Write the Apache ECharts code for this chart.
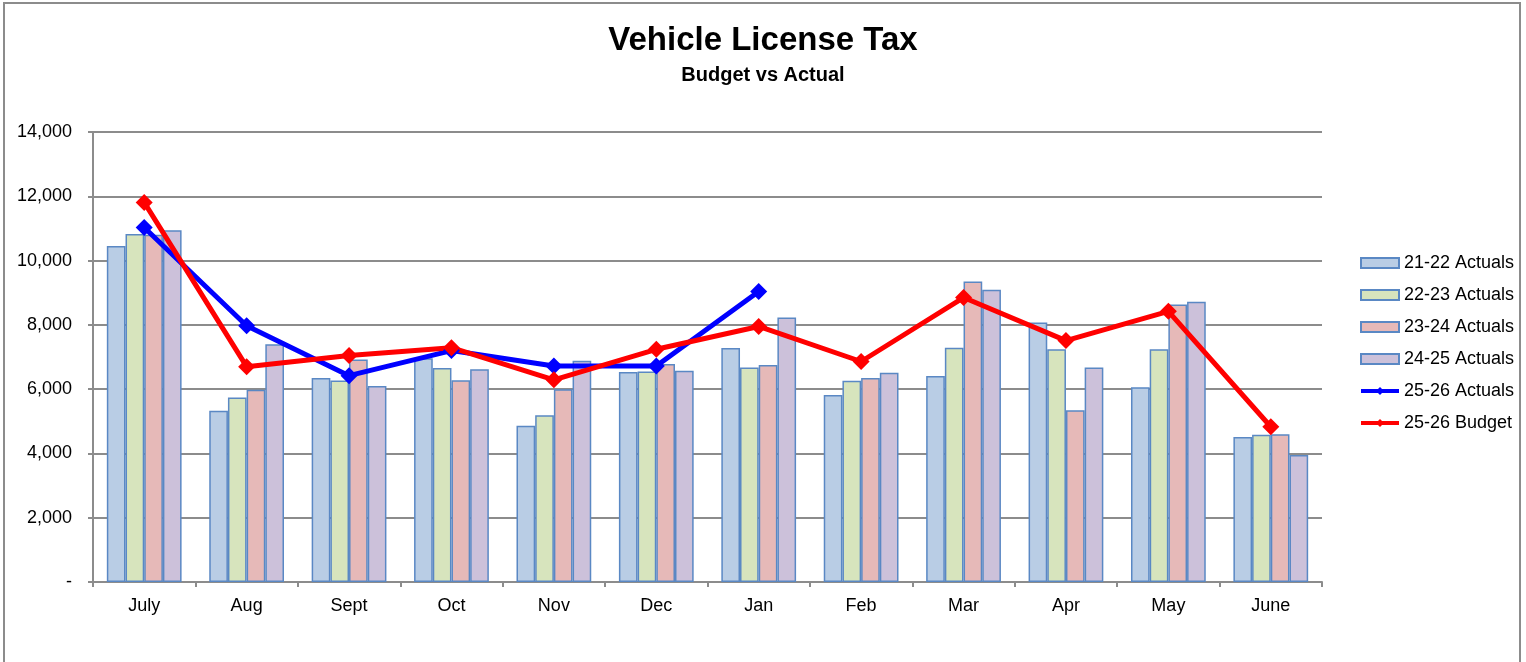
<!DOCTYPE html>
<html>
<head>
<meta charset="utf-8">
<script src="https://cdn.jsdelivr.net/npm/echarts@6/dist/echarts.min.js"></script>
<style>
  html, body { margin: 0; padding: 0; background: #fff; }
  #frame { position: absolute; left: 3px; top: 2px; width: 1518px; height: 680px;
           border: 2px solid #8c8c8c; box-sizing: border-box; }
  #chart { width: 1526px; height: 662px; position: absolute; left: 0; top: 0; }
</style>
</head>
<body>
<div id="frame"></div>
<div id="chart"></div>
<script>
const months = ["July", "Aug", "Sept", "Oct", "Nov", "Dec", "Jan", "Feb", "Mar", "Apr", "May", "June"];
const actuals2122 = [10450, 5330, 6350, 6960, 4860, 6530, 7280, 5820, 6410, 8070, 6060, 4510];
const actuals2223 = [10830, 5740, 6270, 6660, 5190, 6550, 6670, 6260, 7290, 7240, 7240, 4580];
const actuals2324 = [10800, 5980, 6920, 6280, 6000, 6780, 6750, 6350, 9350, 5340, 8630, 4600];
const actuals2425 = [10940, 7400, 6100, 6620, 6880, 6570, 8230, 6510, 9090, 6670, 8720, 3950];
const actuals2526 = [11030, 7970, 6420, 7200, 6720, 6720, 9040];
const budget2526 = [11810, 6700, 7050, 7290, 6290, 7240, 7950, 6860, 8850, 7510, 8420, 4830];
const yTicks = [0, 2000, 4000, 6000, 8000, 10000, 12000, 14000];

const chart = echarts.init(document.getElementById("chart"));
const font = "Liberation Sans, Arial, sans-serif";
const edge = "#5a88c4";

function barSeries(name, data, fill) {
  return {
    name: name,
    type: "bar",
    data: data,
    barGap: "0%",
    barCategoryGap: "27%",
    itemStyle: { color: fill, borderColor: edge, borderWidth: 1.5 },
  };
}

function lineSeries(name, data, color) {
  return {
    name: name,
    type: "line",
    data: data,
    symbol: "diamond",
    symbolSize: 17,
    lineStyle: { color: color, width: 5 },
    itemStyle: { color: color },
    z: 5,
  };
}

chart.setOption({
  animation: false,
  textStyle: { fontFamily: font },
  title: [
    {
      text: "Vehicle License Tax",
      left: "center",
      top: 19,
      textStyle: { fontSize: 33, fontWeight: "bold", color: "#000", fontFamily: font },
    },
    {
      text: "Budget vs Actual",
      left: "center",
      top: 60,
      textStyle: { fontSize: 20, fontWeight: "bold", color: "#000", fontFamily: font },
    },
  ],
  legend: {
    orient: "vertical",
    left: 1354,
    top: 249,
    itemWidth: 38,
    itemHeight: 10,
    itemGap: 14,
    textStyle: { fontSize: 18, color: "#000", fontFamily: font },
    lineStyle: { width: 4 },
    data: [
      { name: "21-22 Actuals", icon: "rect" },
      { name: "22-23 Actuals", icon: "rect" },
      { name: "23-24 Actuals", icon: "rect" },
      { name: "24-25 Actuals", icon: "rect" },
      { name: "25-26 Actuals" },
      { name: "25-26 Budget" },
    ],
  },
  grid: { left: 93, right: 204, top: 132, bottom: 80 },
  xAxis: {
    type: "category",
    data: months,
    axisLine: { lineStyle: { color: "#8c8c8c", width: 2 } },
    axisTick: { show: true, length: 5, lineStyle: { color: "#8c8c8c", width: 2 } },
    axisLabel: { fontSize: 18, color: "#000", margin: 15, fontFamily: font },
  },
  yAxis: {
    type: "value",
    min: yTicks[0],
    max: yTicks[yTicks.length - 1],
    interval: 2000,
    axisLine: { show: true, lineStyle: { color: "#8c8c8c", width: 2 } },
    axisTick: { show: true, length: 5, lineStyle: { color: "#8c8c8c", width: 2 } },
    splitLine: { lineStyle: { color: "#8c8c8c", width: 2 } },
    axisLabel: {
      fontSize: 18,
      color: "#000",
      margin: 21,
      fontFamily: font,
      formatter: (v) => (v === 0 ? "-" : v.toLocaleString("en-US")),
    },
  },
  series: [
    barSeries("21-22 Actuals", actuals2122, "#b9cde5"),
    barSeries("22-23 Actuals", actuals2223, "#d7e4bd"),
    barSeries("23-24 Actuals", actuals2324, "#e6b9b8"),
    barSeries("24-25 Actuals", actuals2425, "#ccc1da"),
    lineSeries("25-26 Actuals", actuals2526, "#0000ff"),
    lineSeries("25-26 Budget", budget2526, "#ff0000"),
  ],
});
</script>
</body>
</html>
